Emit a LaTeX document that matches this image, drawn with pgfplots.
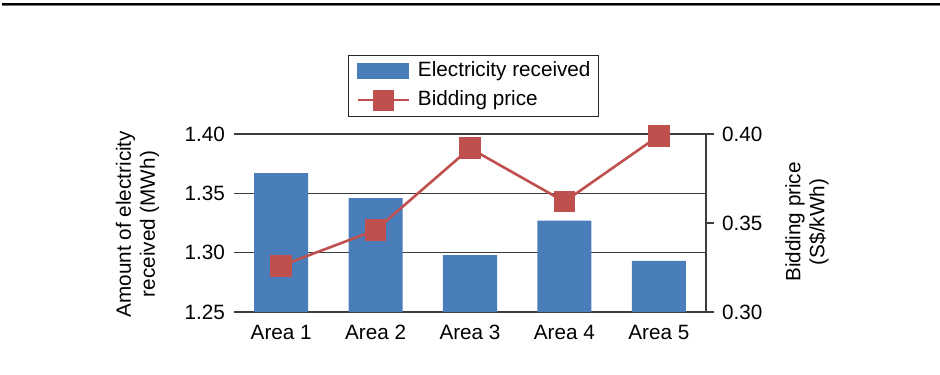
\documentclass[border=0pt]{standalone}
\usepackage{pgfplots}
\pgfplotsset{compat=1.18}
\usepackage{fontspec}
\setmainfont{Liberation Sans}

\definecolor{barblue}{HTML}{4A7EBB}
\definecolor{linered}{HTML}{C0504D}
\definecolor{gridgray}{HTML}{3C3C3C}

% Electricity received per area (MWh) and bidding price (S$/kWh)
\pgfplotstableread{
idx  energy  price
0    1.367   0.326
1    1.346   0.346
2    1.298   0.392
3    1.327   0.362
4    1.293   0.399
}\areadata

\begin{document}
\fontsize{20.7bp}{24bp}\selectfont
\begin{tikzpicture}
\useasboundingbox (0,0) rectangle (940bp,375bp);
% rule above the figure
\draw[line width=2.4bp] (2bp,371bp) -- (940bp,371bp);
\draw[black!55, line width=0.8bp] (2bp,369.3bp) -- (940bp,369.3bp);

\pgfplotsset{
  chartbox/.style={
    at={(234bp,63bp)}, anchor=south west,
    scale only axis, width=472bp, height=178bp,
    xmin=-0.5, xmax=4.5,
    font=\fontsize{20.7bp}{24bp}\selectfont,
    /pgf/number format/assume math mode=true,
    yticklabel style={/pgf/number format/fixed, /pgf/number format/fixed zerofill, /pgf/number format/precision=2},
  }
}

% left axis: bars
\begin{axis}[
  chartbox,
  ybar, bar width=54bp, bar shift=0pt,
  ymin=1.25, ymax=1.40,
  ytick={1.25,1.30,1.35,1.40},
  xtick={0,1,2,3,4},
  xticklabels={Area 1,Area 2,Area 3,Area 4,Area 5},
  axis x line*=bottom, axis y line*=left,
  x axis line style={gridgray, line width=1.2bp, -},
  y axis line style={draw=none},
  major tick length=0pt,
  ymajorgrids, grid style={gridgray, line width=1.2bp},
  xticklabel style={inner sep=0pt, anchor=north, yshift=-13bp},
  yticklabel style={inner sep=0pt, anchor=east, xshift=-9bp},
  ylabel={Amount of electricity\\received (MWh)},
  ylabel style={align=center, at={(axis description cs:-0.2044,0.494)}, anchor=center},
]
\addplot[fill=barblue, draw=none] table[x=idx, y=energy] {\areadata};
\end{axis}

% right axis: bidding price line
\begin{axis}[
  chartbox,
  ymin=0.30, ymax=0.40,
  ytick={0.30,0.35,0.40},
  axis x line=none, axis y line*=right,
  y axis line style={gridgray, line width=1.2bp, -},
  tick align=outside, major tick length=8bp,
  ytick style={gridgray, line width=1.2bp},
  yticklabel style={inner sep=0pt, anchor=west, xshift=8bp},
  ylabel={Bidding price\\(S\$/kWh)},
  ylabel style={align=center, at={(axis description cs:1.214,0.506)}, anchor=center},
  legend style={
    at={(axis description cs:0.2415,1.4438)}, anchor=north west,
    draw=black!85, line width=0.8bp,
    inner xsep=8bp, inner ysep=6bp, row sep=8.8bp,
    nodes={inner sep=0pt, text height=15bp, text depth=4.5bp},
    /tikz/every odd column/.append style={column sep=8bp},
  },
  legend cell align=left,
]
\addlegendimage{legend image code/.code={\fill[barblue] (0bp,-7.5bp) rectangle (51bp,7.5bp);}}
\addlegendentry{Electricity received}
\addlegendimage{legend image code/.code={\draw[linered, line width=2.6bp] (0bp,0bp) -- (51bp,0bp); \fill[linered] (15.5bp,-10bp) rectangle (35.5bp,10bp);}}
\addlegendentry{Bidding price}
\addplot[linered, line width=2.6bp, mark=square*, mark size=9.5bp, mark options={solid, fill=linered, draw=none}, forget plot]
  table[x=idx, y=price] {\areadata};
\end{axis}
\end{tikzpicture}
\end{document}
